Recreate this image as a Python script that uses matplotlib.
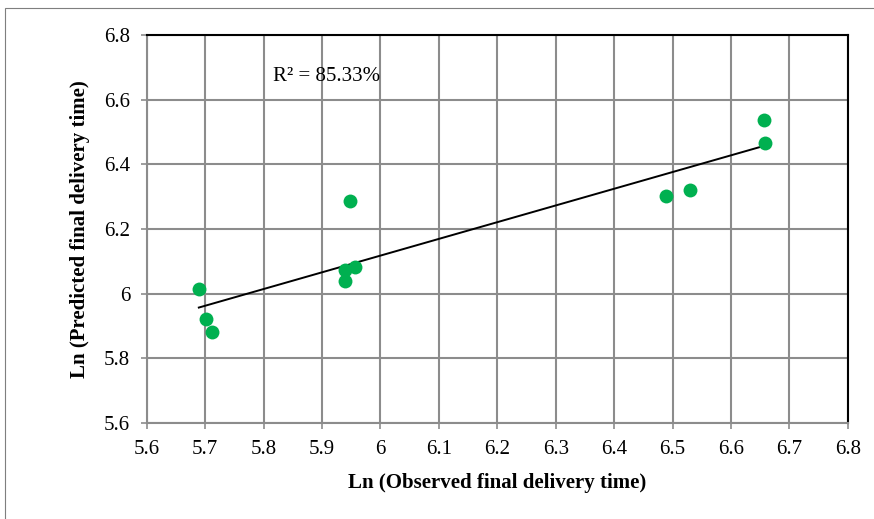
import numpy as np
import matplotlib.pyplot as plt
from matplotlib.patches import Rectangle

# observed vs predicted (log of final delivery time)
observed = [5.689, 5.701, 5.711, 5.948, 5.939, 5.956, 5.939, 6.489, 6.530, 6.657, 6.659]
predicted = [6.015, 5.922, 5.881, 6.287, 6.073, 6.082, 6.039, 6.302, 6.321, 6.537, 6.466]
r2_text = "R² = 85.33%"

plt.rcParams['font.family'] = ['Liberation Serif', 'DejaVu Serif']

fig = plt.figure(figsize=(8.74, 5.19), dpi=100)
ax = fig.add_axes([0.168, 0.185, 0.802, 0.7475])

# outer chart border
fig.patches.append(Rectangle((5 / 874, -0.01), 1.2, 1 - 8 / 519 + 0.01,
                             transform=fig.transFigure, fill=False,
                             edgecolor='#7f7f7f', linewidth=0.8))

ax.scatter(observed, predicted, s=100, color='#00b050', zorder=3, linewidths=0)

# linear trendline
slope, intercept = np.polyfit(observed, predicted, 1)
xs = np.array([min(observed), max(observed)])
ax.plot(xs, slope * xs + intercept, color='black', linewidth=1.4, zorder=2)

ax.text(5.816, 6.672, r2_text, fontsize=15, va='center', ha='left')

ax.set_xlim(5.6, 6.8)
ax.set_ylim(5.6, 6.8)
ax.set_xticks(np.arange(5.6, 6.81, 0.1))
ax.set_yticks(np.arange(5.6, 6.81, 0.2))
ax.set_xticklabels(['5.6', '5.7', '5.8', '5.9', '6', '6.1', '6.2', '6.3',
                    '6.4', '6.5', '6.6', '6.7', '6.8'])
ax.set_yticklabels(['5.6', '5.8', '6', '6.2', '6.4', '6.6', '6.8'])
ax.grid(True, color='#8c8c8c', linewidth=1.5)
ax.set_axisbelow(True)

for side in ['top', 'right']:
    ax.spines[side].set_color('black')
    ax.spines[side].set_linewidth(1.5)
for side in ['left', 'bottom']:
    ax.spines[side].set_color('#8c8c8c')
    ax.spines[side].set_linewidth(1.5)
ax.tick_params(axis='both', labelsize=15, length=4, width=1.2, color='#8c8c8c', pad=8)

ax.set_xlabel('Ln (Observed final delivery time)', fontsize=15, fontweight='bold', labelpad=10)
ax.set_ylabel('Ln (Predicted final delivery time)', fontsize=15, fontweight='bold', labelpad=10)

fig.savefig('out.png', dpi=100)
